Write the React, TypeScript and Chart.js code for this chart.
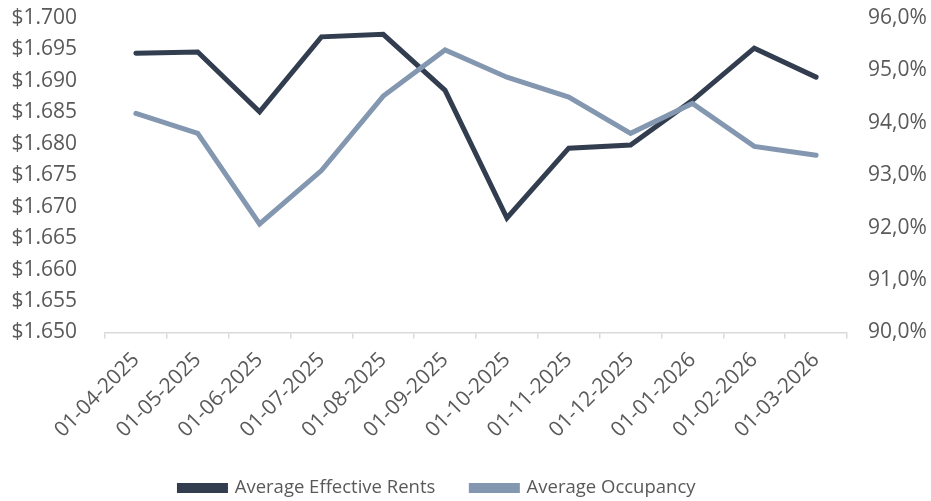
import React, { useEffect, useRef } from "react";
import { Chart, registerables } from "chart.js";

Chart.register(...registerables);

const categories = [
  "01-04-2025", "01-05-2025", "01-06-2025", "01-07-2025", "01-08-2025", "01-09-2025",
  "01-10-2025", "01-11-2025", "01-12-2025", "01-01-2026", "01-02-2026", "01-03-2026",
];
const effectiveRents = [1.6944, 1.6946, 1.6851, 1.697, 1.6974, 1.6885, 1.6682, 1.6793, 1.6798, 1.6869, 1.6952, 1.6906];
const occupancy = [94.18, 93.8, 92.07, 93.09, 94.51, 95.39, 94.87, 94.49, 93.8, 94.37, 93.55, 93.38];

const FONT = "'Open Sans', sans-serif";
const TEXT = "#595959";
const LEGEND_CENTER_Y = 488;
const LEGEND_SHIFT_X = -28;

const legendShift = {
  id: "legendShift",
  afterLayout(chart: any) {
    const l = chart.legend;
    if (!l) return;
    const pad = l.options.labels.padding;
    const ih = l.options.labels.font.size;
    const d = LEGEND_CENTER_Y - (l.top + pad + ih / 2);
    l.top += d;
    l.bottom += d;
    l.left += LEGEND_SHIFT_X;
    l.right += LEGEND_SHIFT_X;
  },
};

export default function App() {
  const ref = useRef<HTMLCanvasElement | null>(null);
  useEffect(() => {
    if (!ref.current) return;
    const chart = new Chart(ref.current, {
      type: "line",
      data: {
        labels: categories,
        datasets: [
          {
            label: "Average Effective Rents",
            data: effectiveRents,
            borderColor: "#323e4f",
            backgroundColor: "#323e4f",
            borderWidth: 5,
            pointRadius: 0,
            borderCapStyle: "round",
            borderJoinStyle: "miter",
            yAxisID: "y",
            order: 1,
          },
          {
            label: "Average Occupancy",
            data: occupancy,
            borderColor: "#8497b0",
            backgroundColor: "#8497b0",
            borderWidth: 5,
            pointRadius: 0,
            borderCapStyle: "round",
            borderJoinStyle: "miter",
            yAxisID: "y1",
            order: 0,
          },
        ],
      },
      plugins: [legendShift],
      options: {
        animation: false,
        responsive: true,
        maintainAspectRatio: false,
        layout: { padding: { top: 18, left: 0, right: 0, bottom: -20 } },
        plugins: {
          tooltip: { enabled: false },
          legend: {
            position: "bottom",
            labels: {
              sort: (a: any, b: any) => a.datasetIndex - b.datasetIndex,
              boxWidth: 46,
              boxHeight: 5,
              padding: 36,
              color: TEXT,
              font: { family: FONT, size: 18.5 },
            },
          },
        },
        scales: {
          x: {
            offset: true,
            grid: {
              display: true,
              offset: true,
              drawOnChartArea: false,
              drawTicks: true,
              tickLength: 6,
              color: "#d9d9d9",
              lineWidth: 1.5,
            },
            border: { display: true, color: "#d9d9d9", width: 1.5 },
            ticks: {
              minRotation: 45,
              maxRotation: 45,
              autoSkip: false,
              padding: 9,
              color: TEXT,
              font: { family: FONT, size: 21 },
            },
            afterFit: (s: any) => { s.height = 124; },
          },
          y: {
            position: "left",
            min: 1.65,
            max: 1.7,
            grid: { display: true, drawOnChartArea: false, drawTicks: true, tickLength: 26, color: "rgba(0,0,0,0)" },
            border: { display: false },
            ticks: {
              stepSize: 0.005,
              padding: 2,
              color: TEXT,
              font: { family: FONT, size: 21 },
              callback: (v: any) => "$" + Number(v).toFixed(3),
            },
            afterFit: (s: any) => { s.width = 105; },
          },
          y1: {
            position: "right",
            min: 90,
            max: 96,
            grid: { display: true, drawOnChartArea: false, drawTicks: true, tickLength: 19, color: "rgba(0,0,0,0)" },
            border: { display: false },
            ticks: {
              stepSize: 1,
              padding: 2,
              color: TEXT,
              font: { family: FONT, size: 21 },
              callback: (v: any) => Number(v).toFixed(1).replace(".", ",") + "%",
            },
            afterFit: (s: any) => { s.width = 84; },
          },
        },
      },
    });
    return () => chart.destroy();
  }, []);
  return (
    <div style={{ position: "fixed", left: 0, top: 0, width: 931, height: 501, background: "#fff" }}>
      <canvas ref={ref} />
    </div>
  );
}
